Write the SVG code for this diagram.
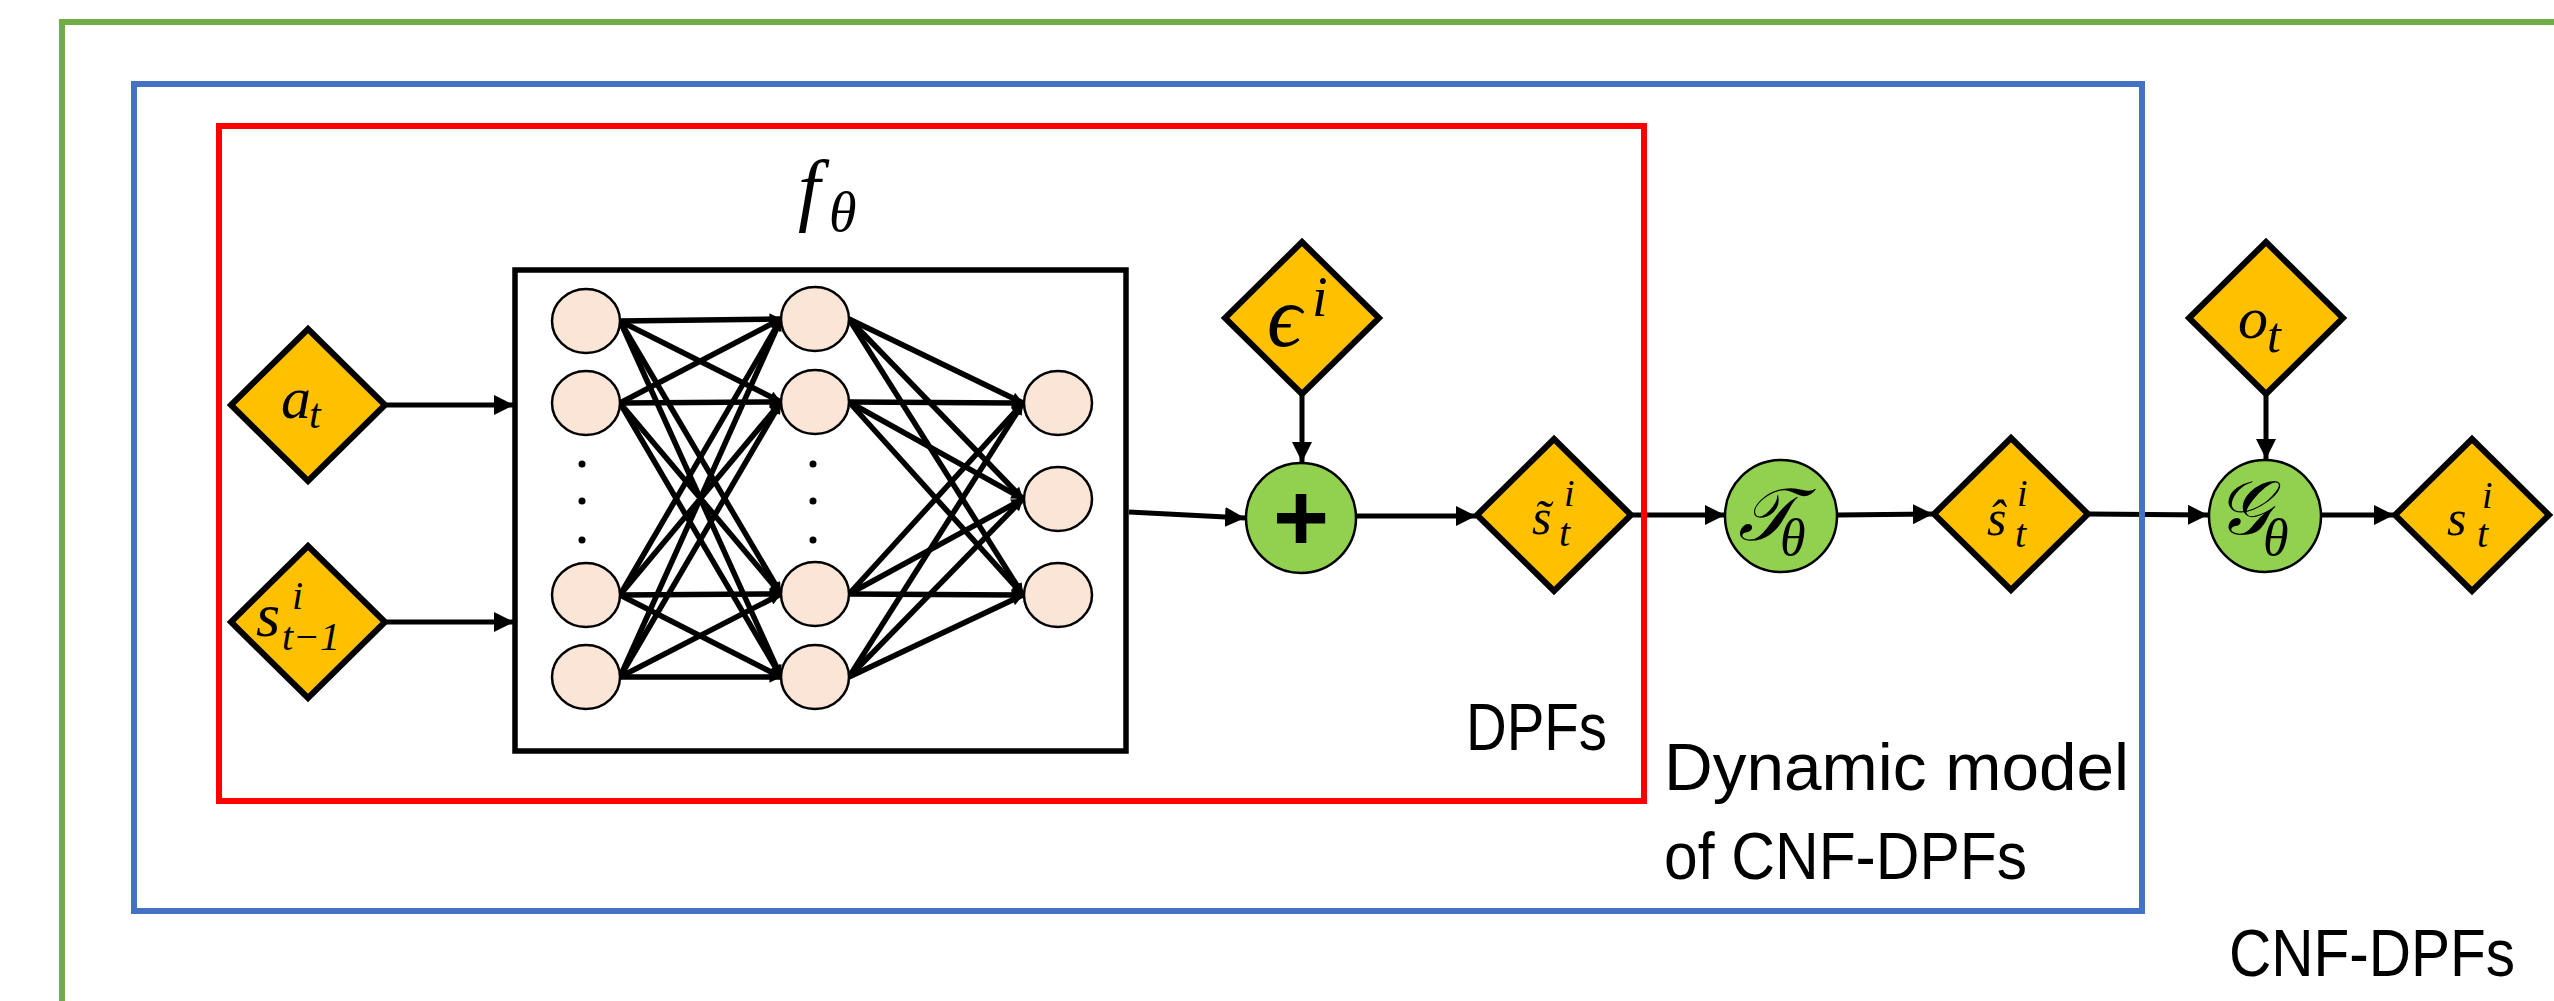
<svg xmlns="http://www.w3.org/2000/svg" width="2554" height="1001" viewBox="0 0 2554 1001">
<style>
.frame{fill:none;stroke-width:6}
.dia{fill:#FFC000;stroke:#000;stroke-width:6;stroke-linejoin:miter}
.op{fill:#92D050;stroke:#000;stroke-width:2.5}
.neu{fill:#FBE5D6;stroke:#000;stroke-width:2.5}
.dot{fill:#000}
.math{font-family:"Liberation Serif","DejaVu Serif",serif;font-style:italic;fill:#000}
.lbl{font-family:"Liberation Sans","DejaVu Sans",sans-serif;font-size:66px;fill:#000}
.arr{stroke:#000;stroke-width:5;fill:none;marker-end:url(#ah)}
.nn{stroke:#000;stroke-width:5.5;fill:none;marker-end:url(#sh)}
</style>
<defs>
<marker id="ah" viewBox="0 0 10 10" refX="10" refY="5" markerWidth="4" markerHeight="4" orient="auto" markerUnits="strokeWidth"><path d="M0,0 L10,5 L0,10 Z" fill="#000"/></marker>
<marker id="sh" viewBox="0 0 10 10" refX="10" refY="5" markerWidth="2.3" markerHeight="2.1" orient="auto" markerUnits="strokeWidth"><path d="M0,0 L10,5 L0,10 Z" fill="#000"/></marker>
</defs>
<rect width="2554" height="1001" fill="#fff"/>

<g id="connectors">
<line class="arr" x1="385" y1="405" x2="514" y2="405"/>
<line class="arr" x1="385" y1="622" x2="514" y2="622"/>
<line class="arr" x1="1129" y1="512" x2="1245" y2="518"/>
<line class="arr" x1="1302" y1="394" x2="1302" y2="462"/>
<line class="arr" x1="1357" y1="516" x2="1476" y2="516"/>
<line class="arr" x1="1632" y1="515" x2="1725" y2="515"/>
<line class="arr" x1="1838" y1="515" x2="1933" y2="514"/>
<line class="arr" x1="2089" y1="514" x2="2208" y2="515"/>
<line class="arr" x1="2266" y1="394" x2="2266" y2="459"/>
<line class="arr" x1="2322" y1="515" x2="2394" y2="515"/>
<g id="nn-layer12">
<line class="nn" x1="620" y1="321" x2="781" y2="319"/>
<line class="nn" x1="620" y1="321" x2="781" y2="402"/>
<line class="nn" x1="620" y1="321" x2="781" y2="594"/>
<line class="nn" x1="620" y1="321" x2="781" y2="677"/>
<line class="nn" x1="620" y1="403" x2="781" y2="319"/>
<line class="nn" x1="620" y1="403" x2="781" y2="402"/>
<line class="nn" x1="620" y1="403" x2="781" y2="594"/>
<line class="nn" x1="620" y1="403" x2="781" y2="677"/>
<line class="nn" x1="620" y1="595" x2="781" y2="319"/>
<line class="nn" x1="620" y1="595" x2="781" y2="402"/>
<line class="nn" x1="620" y1="595" x2="781" y2="594"/>
<line class="nn" x1="620" y1="595" x2="781" y2="677"/>
<line class="nn" x1="620" y1="677" x2="781" y2="319"/>
<line class="nn" x1="620" y1="677" x2="781" y2="402"/>
<line class="nn" x1="620" y1="677" x2="781" y2="594"/>
<line class="nn" x1="620" y1="677" x2="781" y2="677"/>
</g>
<g id="nn-layer23">
<line class="nn" x1="849" y1="319" x2="1023" y2="403"/>
<line class="nn" x1="849" y1="319" x2="1023" y2="499"/>
<line class="nn" x1="849" y1="319" x2="1023" y2="595"/>
<line class="nn" x1="849" y1="402" x2="1023" y2="403"/>
<line class="nn" x1="849" y1="402" x2="1023" y2="499"/>
<line class="nn" x1="849" y1="402" x2="1023" y2="595"/>
<line class="nn" x1="849" y1="594" x2="1023" y2="403"/>
<line class="nn" x1="849" y1="594" x2="1023" y2="499"/>
<line class="nn" x1="849" y1="594" x2="1023" y2="595"/>
<line class="nn" x1="849" y1="677" x2="1023" y2="403"/>
<line class="nn" x1="849" y1="677" x2="1023" y2="499"/>
<line class="nn" x1="849" y1="677" x2="1023" y2="595"/>
</g>
</g>

<g id="f-theta">
<rect x="515" y="270" width="611" height="481" fill="none" stroke="#000" stroke-width="5.5"/>
<text class="math"><tspan x="798" y="216" font-size="80">f</tspan><tspan x="829" y="231" font-size="56">θ</tspan></text>
</g>

<g id="neurons">
<g id="layer1">
<ellipse class="neu" cx="586" cy="321" rx="34" ry="32"/>
<ellipse class="neu" cx="586" cy="403" rx="34" ry="32"/>
<ellipse class="neu" cx="586" cy="595" rx="34" ry="32"/>
<ellipse class="neu" cx="586" cy="677" rx="34" ry="32"/>
<circle class="dot" cx="582" cy="464" r="3.5"/>
<circle class="dot" cx="582" cy="501" r="3.5"/>
<circle class="dot" cx="582" cy="540" r="3.5"/>
</g>
<g id="layer2">
<ellipse class="neu" cx="815" cy="319" rx="34" ry="32"/>
<ellipse class="neu" cx="815" cy="402" rx="34" ry="32"/>
<ellipse class="neu" cx="815" cy="594" rx="34" ry="32"/>
<ellipse class="neu" cx="815" cy="677" rx="34" ry="32"/>
<circle class="dot" cx="813" cy="464" r="3.5"/>
<circle class="dot" cx="813" cy="501" r="3.5"/>
<circle class="dot" cx="813" cy="540" r="3.5"/>
</g>
<g id="layer3">
<ellipse class="neu" cx="1058" cy="403" rx="34" ry="32"/>
<ellipse class="neu" cx="1058" cy="499" rx="34" ry="32"/>
<ellipse class="neu" cx="1058" cy="595" rx="34" ry="32"/>
</g>
</g>

<g id="a_t">
<path class="dia" d="M308,329 L385,405 L308,481 L231,405 Z"/>
<text class="math"><tspan x="281" y="418" font-size="60">a</tspan><tspan x="309" y="428" font-size="42">t</tspan></text>
</g>
<g id="s_t-1">
<path class="dia" d="M308,546 L385,622 L308,698 L231,622 Z"/>
<text class="math"><tspan x="256" y="636" font-size="62">s</tspan><tspan x="292" y="609" font-size="40">i</tspan><tspan x="282" y="650" font-size="40">t−1</tspan></text>
</g>
<g id="epsilon">
<path class="dia" d="M1302,242 L1379,318 L1302,394 L1225,318 Z"/>
<text class="math"><tspan x="1267" y="346" font-size="86">ϵ</tspan><tspan x="1312" y="316" font-size="56">i</tspan></text>
</g>
<g id="plus">
<circle class="op" cx="1301" cy="518" r="55"/>
<text x="1301" y="551" text-anchor="middle" font-family="Liberation Sans, DejaVu Sans, sans-serif" font-weight="bold" font-size="96">+</text>
</g>
<g id="s_tilde">
<path class="dia" d="M1554,439 L1631,515 L1554,591 L1477,515 Z"/>
<text class="math"><tspan x="1532" y="534" font-size="50">s̃</tspan><tspan x="1564" y="506" font-size="38">i</tspan><tspan x="1559" y="546" font-size="40">t</tspan></text>
</g>
<g id="T_theta">
<circle class="op" cx="1781" cy="516" r="56"/>
<text class="math"><tspan x="1738" y="540" font-size="74">𝒯</tspan><tspan x="1780" y="555" font-size="52">θ</tspan></text>
</g>
<g id="s_hat">
<path class="dia" d="M2011,438 L2088,514 L2011,590 L1934,514 Z"/>
<text class="math"><tspan x="1987" y="535" font-size="50">ŝ</tspan><tspan x="2017" y="506" font-size="38">i</tspan><tspan x="2015" y="547" font-size="40">t</tspan></text>
</g>
<g id="o_t">
<path class="dia" d="M2266,242 L2343,318 L2266,394 L2189,318 Z"/>
<text class="math"><tspan x="2238" y="338" font-size="60">o</tspan><tspan x="2267" y="352" font-size="50">t</tspan></text>
</g>
<g id="G_theta">
<circle class="op" cx="2265" cy="516" r="56"/>
<text class="math"><tspan x="2216" y="534" font-size="76">𝒢</tspan><tspan x="2263" y="555" font-size="52">θ</tspan></text>
</g>
<g id="s_t">
<path class="dia" d="M2472,439 L2549,515 L2472,591 L2395,515 Z"/>
<text class="math"><tspan x="2447" y="535" font-size="50">s</tspan><tspan x="2482" y="508" font-size="38">i</tspan><tspan x="2477" y="547" font-size="40">t</tspan></text>
</g>

<g id="DPFs">
<rect class="frame" x="219" y="126" width="1425" height="675" stroke="#FF0000"/>
<text class="lbl" x="1466" y="750" textLength="141" lengthAdjust="spacingAndGlyphs">DPFs</text>
</g>
<g id="dynamic-model">
<rect class="frame" x="134" y="84" width="2008" height="827" stroke="#4472C4"/>
<text class="lbl" x="1664" y="790" textLength="465" lengthAdjust="spacingAndGlyphs">Dynamic model</text>
<text class="lbl" x="1664" y="879" textLength="363" lengthAdjust="spacingAndGlyphs">of CNF-DPFs</text>
</g>
<g id="CNF-DPFs">
<rect class="frame" x="62" y="22" width="2700" height="1200" stroke="#70AD47"/>
<text class="lbl" x="2229" y="976" textLength="286" lengthAdjust="spacingAndGlyphs">CNF-DPFs</text>
</g>
</svg>
